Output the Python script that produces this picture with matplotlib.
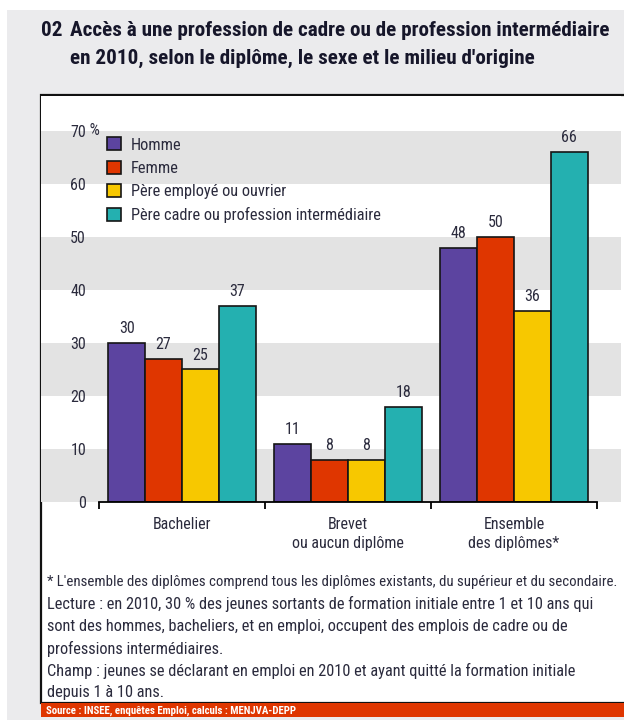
import matplotlib.pyplot as plt
from matplotlib import font_manager
from matplotlib.patches import Patch, Rectangle

installed = {f.name for f in font_manager.fontManager.ttflist}
preferred = ["Roboto Condensed", "Archivo Narrow", "PT Sans Narrow",
             "IBM Plex Sans Condensed", "Fira Sans Condensed",
             "Encode Sans Condensed", "Liberation Sans Narrow", "Liberation Sans"]
narrow = next((f for f in preferred if f in installed), "DejaVu Sans")
plt.rcParams["font.family"] = [narrow, "DejaVu Sans"]

categories = ["Bachelier", "Brevet\nou aucun diplôme", "Ensemble\ndes diplômes*"]
series_names = [
    "Homme",
    "Femme",
    "Père employé ou ouvrier",
    "Père cadre ou profession intermédiaire",
]
homme = [30, 11, 48]
femme = [27, 8, 50]
pere_employe = [25, 8, 36]
pere_cadre = [37, 18, 66]
y_ticks = [0, 10, 20, 30, 40, 50, 60, 70]

colors = ["#5c44a0", "#df3600", "#f7c800", "#24b0b0"]
text_color = "#2b2b3d"
band_color = "#e3e3e3"
outer_bg = "#ebebed"

W, H = 624, 720
fig = plt.figure(figsize=(W / 100, H / 100), dpi=100)

# page background drawn in pixel coordinates
bg = fig.add_axes([0, 0, 1, 1])
bg.set_xlim(0, W)
bg.set_ylim(H, 0)
bg.axis("off")
bg.add_patch(Rectangle((7, 10), W, H, facecolor=outer_bg, edgecolor="none"))
bg.add_patch(Rectangle((41, 95), W, 608, facecolor="white", edgecolor="#111111", lw=1.6))
bg.add_patch(Rectangle((41, 703), W, 14, facecolor="#df3600", edgecolor="none"))

title_kw = dict(fontsize=15.2, fontweight="bold", color="#16162a", va="center")
bg.text(41, 31, "02", **title_kw)
bg.text(70, 31, "Accès à une profession de cadre ou de profession intermédiaire", **title_kw)
bg.text(70, 58, "en 2010, selon le diplôme, le sexe et le milieu d'origine", **title_kw)

notes = [
    "* L'ensemble des diplômes comprend tous les diplômes existants, du supérieur et du secondaire.",
    "Lecture : en 2010, 30 % des jeunes sortants de formation initiale entre 1 et 10 ans qui",
    "sont des hommes, bacheliers, et en emploi, occupent des emplois de cadre ou de",
    "professions intermédiaires.",
    "Champ : jeunes se déclarant en emploi en 2010 et ayant quitté la formation initiale",
    "depuis 1 à 10 ans.",
]
for i, line in enumerate(notes):
    bg.text(47, 582 + i * 22.2, line, fontsize=11.8 if i else 10.75,
            color=text_color, va="center")
bg.text(46, 710.5, "Source : INSEE, enquêtes Emploi, calculs : MENJVA-DEPP",
        fontsize=7.8, fontweight="bold", color="white", va="center")

# main chart
ax = fig.add_axes([41 / W, 1 - 502 / H, 580 / W, (502 - 96) / H])
ax.set_facecolor("white")
ax.set_xlim(-0.849, 2.645)
ax.set_ylim(0, 76.6)

for lo in (0, 20, 40, 60):
    ax.axhspan(lo, lo + 10, color=band_color, lw=0, zorder=0)

width = 0.222
series = [homme, femme, pere_employe, pere_cadre]
x = list(range(len(categories)))
for k, (vals, col) in enumerate(zip(series, colors)):
    pos = [xi + (k - 1.5) * width for xi in x]
    bars = ax.bar(pos, vals, width=width, color=col, edgecolor="#151515",
                  linewidth=1.2, zorder=2)
    for b, v in zip(bars, vals):
        ax.annotate(str(v), (b.get_x() + b.get_width() / 2, v),
                    xytext=(0, 5), textcoords="offset points",
                    ha="center", va="bottom", fontsize=11.5, color=text_color)

for s in ("top", "right", "left"):
    ax.spines[s].set_visible(False)
ax.spines["bottom"].set_bounds(-0.5, 2.5)
ax.spines["bottom"].set_linewidth(1.3)
ax.spines["bottom"].set_zorder(3)

ax.set_xticks([-0.5, 0.5, 1.5, 2.5])
ax.set_xticklabels([])
ax.tick_params(axis="x", which="major", length=5, width=1.3, direction="out")
ax.set_xticks(x, minor=True)
ax.set_xticklabels(categories, minor=True, fontsize=11.5, color=text_color,
                   linespacing=1.4)
ax.tick_params(axis="x", which="minor", length=0, pad=10.5)

# y labels sit inside the box, right edge about 45 px from its left side
ax.set_yticks(y_ticks)
ax.set_yticklabels([str(t) for t in y_ticks], fontsize=11.5, color=text_color)
ax.tick_params(axis="y", length=0, pad=-32.4)
ax.text(45 / 580, 70, " %", transform=ax.get_yaxis_transform(),
        ha="left", va="center", fontsize=11.5, color=text_color)

handles = [Patch(facecolor=c, edgecolor="#151515", linewidth=1.2) for c in colors]
leg = ax.legend(handles, series_names, loc="upper left",
                bbox_to_anchor=(66 / 580, 68.8 / 76.6),
                frameon=False, fontsize=11.75, handlelength=0.85, handleheight=0.85,
                handletextpad=0.6, labelspacing=0.5, borderpad=0, borderaxespad=0)
for t in leg.get_texts():
    t.set_color(text_color)

fig.savefig("out.png", dpi=100)
